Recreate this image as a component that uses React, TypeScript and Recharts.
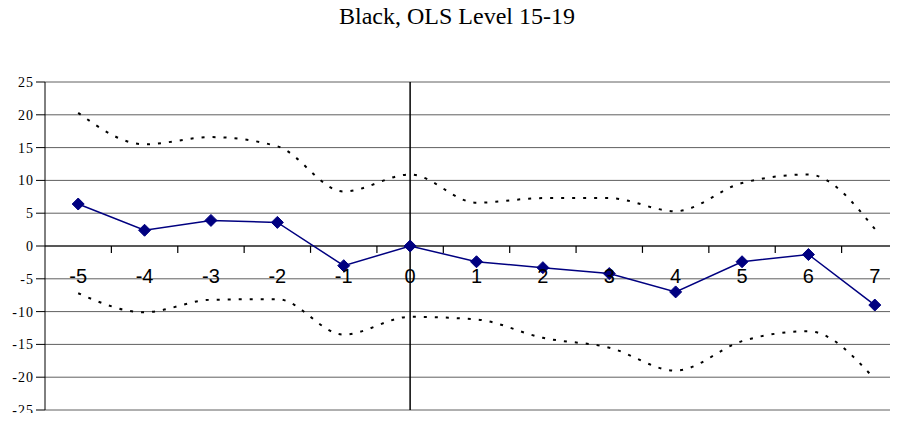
import { LineChart, Line, XAxis, YAxis, CartesianGrid, ReferenceLine } from 'recharts';

const periods = [-5, -4, -3, -2, -1, 0, 1, 2, 3, 4, 5, 6, 7];
const estimate = [6.4, 2.4, 3.9, 3.6, -3.0, 0, -2.4, -3.3, -4.2, -7.0, -2.4, -1.3, -9.0];
const upperBand = [20.3, 15.5, 16.6, 15.2, 8.3, 10.9, 6.6, 7.3, 7.3, 5.3, 9.6, 10.9, 2.6];
const lowerBand = [-7.2, -10.1, -8.2, -8.1, -13.5, -10.8, -11.2, -14.0, -15.5, -19.0, -14.5, -13.0, -20.3];
const yTicks = [-25, -20, -15, -10, -5, 0, 5, 10, 15, 20, 25];
const boundaryTicks = [-4.5, -3.5, -2.5, -1.5, -0.5, 0.5, 1.5, 2.5, 3.5, 4.5, 5.5, 6.5];

const data = periods.map((p, i) => ({
  period: p,
  estimate: estimate[i],
  upper: upperBand[i],
  lower: lowerBand[i],
}));

const W = 908;
const H = 421;
const TOP = 82;
const BOTTOM = 11;
const PLOT_H = H - TOP - BOTTOM;
const ZERO_Y = TOP + PLOT_H / 2;

const Diamond = (props: any) => {
  const { cx, cy } = props;
  if (cx == null || cy == null) return null;
  const r = 6;
  return (
    <polygon
      points={`${cx},${cy - r} ${cx + r},${cy} ${cx},${cy + r} ${cx - r},${cy}`}
      fill="#000080"
      stroke="#000080"
    />
  );
};

// period labels sit just under the y = 0 line, not at the bottom of the plot
const PeriodTick = (props: any) => (
  <text
    x={props.x}
    y={ZERO_Y + 30}
    dy="0.36em"
    textAnchor="middle"
    fontFamily="Liberation Sans, Arial, sans-serif"
    fontSize="20px"
    fill="#000"
  >
    {props.payload.value}
  </text>
);

export default function App() {
  return (
    <div style={{ position: 'relative', width: 898, height: 421, margin: -8, overflow: 'hidden', background: '#fff' }}>
      <div
        style={{
          position: 'absolute',
          top: 3,
          left: 0,
          width: 914,
          textAlign: 'center',
          fontFamily: 'Liberation Serif, Times New Roman, serif',
          fontSize: 24,
          color: '#000',
        }}
      >
        Black, OLS Level 15-19
      </div>
      <LineChart width={W} height={H} data={data} margin={{ top: TOP, right: 0, bottom: BOTTOM - 1, left: 0 }}>
        <CartesianGrid horizontal vertical={false} stroke="#606060" />
        <XAxis
          dataKey="period"
          type="number"
          domain={[-5.5, 7.5]}
          ticks={periods}
          interval={0}
          axisLine={false}
          tickLine={false}
          tick={<PeriodTick />}
          height={1}
        />
        <YAxis
          type="number"
          domain={[-25, 25]}
          ticks={yTicks}
          interval={0}
          width={45}
          axisLine={{ stroke: '#000' }}
          tickLine={{ stroke: '#000' }}
          tickSize={9}
          tickMargin={2}
          tick={{ fontFamily: 'Liberation Serif, Times New Roman, serif', fontSize: 14, fill: '#000', letterSpacing: 1 }}
        />
        <ReferenceLine y={0} stroke="#000" strokeWidth={1} />
        {boundaryTicks.map((b) => (
          <ReferenceLine
            key={b}
            segment={[{ x: b, y: 0 }, { x: b, y: -1.05 }]}
            stroke="#000"
            strokeWidth={1.2}
            ifOverflow="visible"
          />
        ))}
        <ReferenceLine x={0} stroke="#000" strokeWidth={1.5} />
        <Line
          dataKey="upper"
          type="monotone"
          stroke="#000"
          strokeWidth={2}
          strokeDasharray="3 8"
          dot={false}
          isAnimationActive={false}
        />
        <Line
          dataKey="lower"
          type="monotone"
          stroke="#000"
          strokeWidth={2}
          strokeDasharray="3 8"
          dot={false}
          isAnimationActive={false}
        />
        <Line
          dataKey="estimate"
          type="linear"
          stroke="#000080"
          strokeWidth={1.5}
          dot={<Diamond />}
          isAnimationActive={false}
        />
      </LineChart>
    </div>
  );
}
